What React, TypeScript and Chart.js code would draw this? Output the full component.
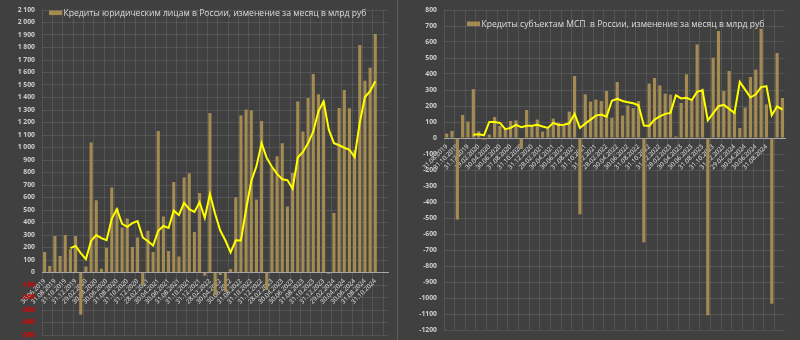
import React, { useEffect, useRef } from 'react';
import { Chart, registerables } from 'chart.js';

Chart.register(...registerables);

// ---------- data ----------
const corpTitle = 'Кредиты юридическим лицам в России, изменение за месяц в млрд руб';
const smeTitle = 'Кредиты субъектам МСП  в России, изменение за месяц в млрд руб';

const corpDates = [
  '30.06.2019', '31.07.2019', '31.08.2019', '30.09.2019', '31.10.2019', '30.11.2019', '31.12.2019',
  '31.01.2020', '29.02.2020', '31.03.2020', '30.04.2020', '31.05.2020', '30.06.2020', '31.07.2020', '31.08.2020', '30.09.2020', '31.10.2020', '30.11.2020', '31.12.2020',
  '31.01.2021', '28.02.2021', '31.03.2021', '30.04.2021', '31.05.2021', '30.06.2021', '31.07.2021', '31.08.2021', '30.09.2021', '31.10.2021', '30.11.2021', '31.12.2021',
  '31.01.2022', '28.02.2022', '31.03.2022', '30.04.2022', '31.05.2022', '30.06.2022', '31.07.2022', '31.08.2022', '30.09.2022', '31.10.2022', '30.11.2022', '31.12.2022',
  '31.01.2023', '28.02.2023', '31.03.2023', '30.04.2023', '31.05.2023', '30.06.2023', '31.07.2023', '31.08.2023', '30.09.2023', '31.10.2023', '30.11.2023', '31.12.2023',
  '31.01.2024', '29.02.2024', '31.03.2024', '30.04.2024', '31.05.2024', '30.06.2024', '31.07.2024', '31.08.2024', '30.09.2024', '31.10.2024',
];
// two empty slots at the end of the left axis (blank space in the plot)
const corpAxisTail = ['', ''];

const corpChange = [
  165, 53, 293, 133, 301, 187, 293, -338, 48, 1040,
  579, 31, 198, 680, 512, 360, 432, 205, 280, -100,
  335, 165, 1133, 448, 173, 725, 128, 760, 795, 325,
  637, -25, 1277, -180, -20, -153, 29, 603, 1256, 1304,
  1299, 584, 1213, -140, 843, 931, 1035, 528, 797, 1368,
  1128, 1397, 1589, 1427, 1371, -10, 477, 1317, 1461, 1315,
  980, 1820, 1535, 1639, 1908,
];

const corpAvg6 = [
  null, null, null, null, null,
  195, 213, 155, 107, 253, 299, 275, 259, 430, 507,
  390, 365, 395, 411, 280, 250, 216, 334, 372, 357,
  495, 460, 557, 506, 485, 562, 436, 628, 470, 336,
  256, 160, 258, 256, 506, 730, 850, 1035, 915, 846,
  789, 746, 738, 670, 920, 964, 1035, 1128, 1290, 1370,
  1143, 1035, 1018, 998, 982, 923, 1200, 1404, 1450, 1530,
];

const smeDates = [
  '31.08.2019', '30.09.2019', '31.10.2019', '30.11.2019', '31.12.2019',
  '31.01.2020', '29.02.2020', '31.03.2020', '30.04.2020', '31.05.2020', '30.06.2020', '31.07.2020', '31.08.2020', '30.09.2020', '31.10.2020', '30.11.2020', '31.12.2020',
  '31.01.2021', '28.02.2021', '31.03.2021', '30.04.2021', '31.05.2021', '30.06.2021', '31.07.2021', '31.08.2021', '30.09.2021', '31.10.2021', '30.11.2021', '31.12.2021',
  '31.01.2022', '28.02.2022', '31.03.2022', '30.04.2022', '31.05.2022', '30.06.2022', '31.07.2022', '31.08.2022', '30.09.2022', '31.10.2022', '30.11.2022', '31.12.2022',
  '31.01.2023', '28.02.2023', '31.03.2023', '30.04.2023', '31.05.2023', '30.06.2023', '31.07.2023', '31.08.2023', '30.09.2023', '31.10.2023', '30.11.2023', '31.12.2023',
  '31.01.2024', '29.02.2024', '31.03.2024', '30.04.2024', '31.05.2024', '30.06.2024', '31.07.2024', '31.08.2024', '30.09.2024', '31.10.2024', '30.11.2024',
];
const smeLastShownLabel = '31.08.2024';

const smeChange = [
  27, 44, -510, 144, 103, 305, 42, -10, 21, 131,
  75, 58, 107, 110, -68, 175, 75, 115, 40, 58,
  121, 96, 79, 165, 387, -477, 273, 228, 240, 231,
  294, 127, 350, 140, 204, 187, 231, -652, 340, 375,
  329, 277, 271, 10, 219, 398, 235, 585, 308, -1108,
  502, 669, 294, 419, 162, 62, 190, 381, 427, 683,
  210, -1036, 531, 250,
];

const smeAvg6 = [
  null, null, null, null, null,
  20, 23, 17, 100, 100, 94, 55, 63, 82, 68,
  76, 76, 83, 72, 63, 95, 82, 83, 92, 151,
  63, 90, 115, 140, 147, 133, 233, 245, 231, 224,
  217, 205, 78, 75, 115, 135, 151, 157, 267, 247,
  251, 237, 290, 297, 110, 154, 199, 207, 182, 157,
  351, 302, 253, 273, 318, 324, 142, 198, 177,
];

// ---------- style ----------
const BG = '#404040';
const BAR = '#a38b52';
const LINE = '#ffff00';
const GRID = 'rgba(255,255,255,0.10)';
const TICK = '#cdcdcd';
const RED = '#e00000';
const FONT = "'Open Sans', 'Noto Sans', sans-serif";

const legendPlugin = {
  id: 'boxLegend',
  afterDraw(chart: any, _args: any, opts: any) {
    const { ctx } = chart;
    const ds = chart.data.datasets[0];
    ctx.save();
    ctx.fillStyle = ds.backgroundColor;
    ctx.fillRect(opts.x, opts.y - 2.3, 13, 4.6);
    ctx.font = `${opts.size}px ${FONT}`;
    ctx.fillStyle = '#dcdcdc';
    ctx.textBaseline = 'middle';
    ctx.textAlign = 'left';
    ctx.fillText(ds.label, opts.x + 14.5, opts.y + 0.5);
    ctx.restore();
  },
};

function spaced(v: number) {
  return String(v).replace(/\B(?=(\d{3})+(?!\d))/g, ' ');
}

function makeConfig(p: {
  labels: string[];
  title: string;
  bars: number[];
  avg: (number | null)[];
  min: number;
  max: number;
  yWidth: number;
  padding: any;
  legend: any;
  redNegatives: boolean;
  yFormat: (v: number) => string;
  showLabel: (label: string, index: number) => boolean;
}) {
  return {
    type: 'bar' as const,
    data: {
      labels: p.labels,
      datasets: [
        {
          type: 'bar' as const,
          label: p.title,
          data: p.bars,
          backgroundColor: BAR,
          borderWidth: 0,
          categoryPercentage: 1,
          barPercentage: 0.6,
          order: 1,
        },
        {
          type: 'line' as const,
          label: 'avg',
          data: p.avg,
          borderColor: LINE,
          borderWidth: 2,
          pointRadius: 0,
          tension: 0,
          fill: false,
          order: 0,
        },
      ],
    },
    options: {
      animation: false,
      responsive: false,
      maintainAspectRatio: false,
      layout: { padding: p.padding },
      plugins: {
        legend: { display: false },
        tooltip: { enabled: false },
        title: { display: false },
        boxLegend: p.legend,
      },
      scales: {
        x: {
          type: 'category',
          position: { y: 0 },
          z: 1,
          offset: true,
          grid: {
            offset: true,
            drawTicks: false,
            color: (c: any) => (typeof c.index === 'number' && c.index % 2 === 0 ? GRID : 'transparent'),
          },
          border: { display: true, color: '#a6a6a6', width: 1 },
          ticks: {
            autoSkip: false,
            minRotation: 45,
            maxRotation: 45,
            padding: 5,
            color: '#e2e2e2',
            font: { size: 6.3, family: FONT },
            callback: function (this: any, val: any, i: number) {
              const lab = this.getLabelForValue(val);
              return p.showLabel(lab, i) ? lab : '';
            },
          },
          afterFit: (s: any) => {
            s.height = 0;
          },
        },
        y: {
          type: 'linear',
          min: p.min,
          max: p.max,
          grid: { color: GRID, drawTicks: false },
          border: { display: false },
          ticks: {
            stepSize: 100,
            autoSkip: false,
            padding: 7,
            color: (c: any) => (p.redNegatives && c.tick && c.tick.value < 0 ? RED : TICK),
            font: { size: 6.8, family: FONT, weight: 'bold' },
            callback: (v: any) => p.yFormat(Number(v)),
          },
          afterFit: (s: any) => {
            s.width = p.yWidth;
            s.paddingTop = 0;
            s.paddingBottom = 0;
          },
        },
      },
    },
    plugins: [legendPlugin],
  };
}

export default function App() {
  const leftRef = useRef<HTMLCanvasElement>(null);
  const rightRef = useRef<HTMLCanvasElement>(null);

  useEffect(() => {
    document.body.style.margin = '0';
    document.body.style.background = BG;
    const left = new Chart(
      leftRef.current as HTMLCanvasElement,
      makeConfig({
        labels: [...corpDates, ...corpAxisTail],
        title: corpTitle,
        bars: corpChange,
        avg: corpAvg6,
        min: -500,
        max: 2100,
        yWidth: 42,
        padding: { left: 0, right: 5.6, top: 10, bottom: 5 },
        legend: { x: 49, y: 12.8, size: 8.6 },
        redNegatives: true,
        yFormat: spaced,
        showLabel: (lab, i) => lab !== '' && i % 2 === 0,
      }) as any
    );
    const lastIdx = smeDates.indexOf(smeLastShownLabel);
    const right = new Chart(
      rightRef.current as HTMLCanvasElement,
      makeConfig({
        labels: smeDates,
        title: smeTitle,
        bars: smeChange,
        avg: smeAvg6,
        min: -1200,
        max: 800,
        yWidth: 44,
        padding: { left: 0, right: 14.9, top: 10, bottom: 10 },
        legend: { x: 67, y: 23.8, size: 8.6 },
        redNegatives: false,
        yFormat: (v) => String(v),
        showLabel: (_lab, i) => i % 2 === 0 && i <= lastIdx,
      }) as any
    );
    return () => {
      left.destroy();
      right.destroy();
    };
  }, []);

  return (
    <div style={{ position: 'relative', width: 800, height: 340, background: BG, overflow: 'hidden' }}>
      <canvas ref={leftRef} width={396} height={340} style={{ position: 'absolute', left: 0, top: 0 }} />
      <div style={{ position: 'absolute', left: 397, top: 0, width: 1, height: 340, background: '#5e5e5e' }} />
      <canvas ref={rightRef} width={400} height={340} style={{ position: 'absolute', left: 400, top: 0 }} />
    </div>
  );
}
